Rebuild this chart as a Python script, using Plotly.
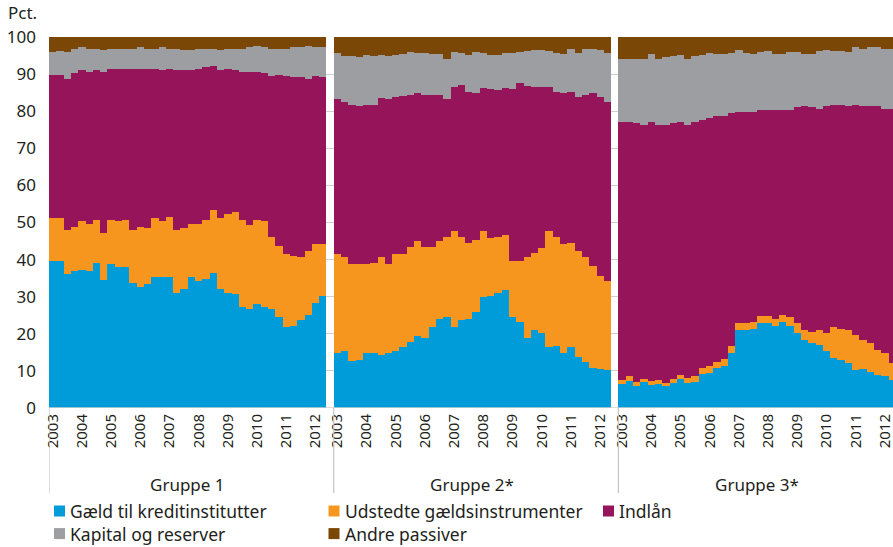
import plotly.graph_objects as go

# Kvartaler 2003K1 - 2012K2, pct. af passiver
years = [str(y) for y in range(2003, 2013)]
groups = ["Gruppe 1", "Gruppe 2*", "Gruppe 3*"]

g1_gaeld = [39.5, 39.5, 36.0, 37.0, 37.3, 37.0, 39.2, 34.6, 38.9, 38.1, 37.9, 33.8, 32.7, 33.5, 35.4, 35.4, 35.4, 31.1, 32.2,
            35.2, 34.1, 34.9, 36.5, 32.2, 31.1, 30.6, 27.1, 26.8, 28.1, 27.1, 26.8, 24.4, 21.9, 22.2, 23.6, 25.2, 28.4, 30.1]
g1_udstedte = [11.6, 11.8, 12.1, 11.9, 13.0, 12.5, 11.4, 12.5, 11.7, 12.2, 12.7, 14.1, 16.2, 14.9, 15.7, 14.9, 16.2, 16.8, 16.2,
               14.3, 15.4, 15.9, 17.0, 18.9, 21.3, 22.1, 23.7, 22.4, 22.5, 23.2, 19.4, 19.4, 19.7, 18.9, 17.2, 17.0, 15.9, 14.2]
g1_indlaan = [38.6, 38.4, 40.7, 41.3, 40.7, 41.2, 40.4, 43.4, 40.7, 41.2, 40.7, 43.4, 42.6, 43.1, 40.4, 40.7, 39.7, 43.1, 42.6,
              41.5, 42.0, 41.0, 38.6, 39.9, 39.1, 38.3, 39.9, 41.3, 40.1, 39.9, 43.2, 45.9, 47.8, 48.0, 48.3, 46.6, 45.1, 44.8]
g1_kapital = [6.2, 6.4, 7.1, 6.7, 6.2, 6.2, 5.9, 5.9, 5.4, 5.2, 5.4, 5.6, 5.7, 5.2, 5.4, 6.2, 5.6, 5.7, 5.4,
              5.4, 5.2, 4.9, 4.8, 5.4, 5.4, 5.7, 6.2, 6.7, 6.8, 7.0, 7.5, 7.2, 7.5, 8.1, 8.1, 8.7, 7.8, 8.1]
g1_andre = [4.1, 3.9, 4.1, 3.1, 2.8, 3.1, 3.1, 3.6, 3.3, 3.3, 3.3, 3.1, 2.8, 3.3, 3.1, 2.8, 3.1, 3.3, 3.6,
            3.6, 3.3, 3.3, 3.1, 3.6, 3.1, 3.3, 3.1, 2.8, 2.5, 2.8, 3.1, 3.1, 3.1, 2.8, 2.8, 2.5, 2.8, 2.8]

g2_gaeld = [14.7, 15.5, 12.8, 13.0, 14.7, 14.7, 14.4, 14.7, 15.5, 16.5, 17.9, 19.5, 19.0, 21.7, 24.1, 24.6, 21.9, 23.6, 24.1,
            26.0, 29.8, 30.3, 31.1, 31.9, 24.6, 23.3, 19.0, 20.9, 20.3, 16.5, 16.8, 14.9, 16.5, 13.8, 12.5, 10.9, 10.6, 10.3]
g2_udstedte = [26.7, 25.1, 26.1, 25.9, 24.2, 24.5, 26.2, 24.2, 25.9, 25.1, 25.4, 25.4, 24.3, 21.8, 21.0, 21.6, 25.9, 22.4, 20.5,
               19.4, 18.0, 15.4, 15.1, 14.6, 15.1, 16.4, 21.6, 21.0, 22.7, 31.3, 29.4, 29.4, 28.1, 28.6, 28.1, 27.5, 25.1, 23.8]
g2_indlaan = [41.8, 41.8, 42.7, 42.4, 42.7, 42.6, 42.9, 44.3, 42.3, 42.4, 41.2, 39.9, 41.2, 40.8, 39.2, 37.0, 38.6, 41.0, 40.5,
              39.4, 38.4, 40.2, 39.4, 39.7, 46.2, 47.8, 46.1, 44.5, 43.4, 38.6, 38.9, 40.5, 40.7, 41.3, 43.7, 46.4, 48.0, 48.5]
g2_kapital = [12.4, 12.4, 13.2, 13.2, 13.5, 13.0, 11.6, 11.6, 11.4, 11.3, 11.4, 10.8, 11.1, 11.0, 11.0, 11.0, 9.5, 8.6, 10.0,
              11.1, 9.4, 9.2, 9.5, 9.4, 9.7, 8.4, 9.4, 10.0, 10.0, 9.7, 10.5, 10.5, 11.4, 11.9, 12.4, 11.9, 12.7, 13.0]
g2_andre = [4.4, 5.2, 5.2, 5.5, 4.9, 5.2, 4.9, 5.2, 4.9, 4.7, 4.1, 4.4, 4.4, 4.7, 4.7, 5.8, 4.1, 4.4, 4.9,
            4.1, 4.4, 4.9, 4.9, 4.4, 4.4, 4.1, 3.9, 3.6, 3.6, 3.9, 4.4, 4.7, 3.3, 4.4, 3.3, 3.3, 3.6, 4.4]

g3_gaeld = [6.6, 7.4, 6.0, 7.1, 6.3, 6.6, 5.8, 6.8, 7.9, 6.8, 7.1, 9.3, 9.5, 10.9, 11.4, 14.9, 21.1, 20.9, 21.4,
            23.0, 22.8, 22.2, 23.3, 22.2, 20.1, 18.4, 17.6, 17.1, 15.5, 13.6, 13.0, 12.2, 10.3, 10.6, 9.8, 9.0, 8.7, 7.6]
g3_udstedte = [1.0, 1.1, 1.1, 0.8, 1.1, 1.0, 1.0, 1.1, 1.1, 1.4, 1.4, 1.6, 1.9, 1.6, 1.9, 1.9, 1.9, 2.1, 1.9,
               1.9, 2.1, 1.9, 1.9, 2.4, 2.9, 2.7, 3.0, 3.8, 4.6, 8.1, 8.4, 8.9, 9.5, 7.8, 7.6, 6.7, 6.2, 4.6]
g3_indlaan = [69.6, 68.5, 69.6, 68.3, 69.6, 68.8, 69.6, 68.8, 68.0, 68.2, 68.5, 66.6, 66.9, 66.1, 65.3, 62.6, 56.9, 56.7, 56.4,
              55.3, 55.3, 56.1, 55.0, 55.6, 58.0, 60.2, 60.4, 59.6, 61.2, 59.9, 60.4, 60.2, 61.8, 62.9, 63.9, 65.6, 65.6, 68.3]
g3_kapital = [17.0, 17.0, 17.5, 18.0, 18.3, 17.8, 18.1, 18.1, 18.1, 17.8, 17.8, 17.6, 17.3, 16.7, 16.7, 16.2, 16.5, 15.9, 15.6,
              15.7, 15.9, 15.1, 15.1, 15.7, 14.9, 14.0, 14.3, 15.6, 15.1, 14.5, 14.3, 14.6, 15.6, 15.4, 15.9, 15.9, 16.4, 16.2]
g3_andre = [5.8, 6.0, 5.8, 5.8, 4.7, 5.8, 5.5, 5.2, 4.9, 5.8, 5.2, 4.9, 4.4, 4.7, 4.7, 4.4, 3.6, 4.4, 4.7,
            4.1, 3.9, 4.7, 4.7, 4.1, 4.1, 4.7, 4.7, 3.9, 3.6, 3.9, 3.9, 4.1, 2.8, 3.3, 2.8, 2.8, 3.1, 3.3]

series = [
    ("Gæld til kreditinstitutter", "#009cd9", [g1_gaeld, g2_gaeld, g3_gaeld]),
    ("Udstedte gældsinstrumenter", "#f7961e", [g1_udstedte, g2_udstedte, g3_udstedte]),
    ("Indlån", "#96155a", [g1_indlaan, g2_indlaan, g3_indlaan]),
    ("Kapital og reserver", "#9c9ea1", [g1_kapital, g2_kapital, g3_kapital]),
    ("Andre passiver", "#7a4706", [g1_andre, g2_andre, g3_andre]),
]

W, H = 893, 547
L, R, T, B = 49, 0, 37, 139
PW, PH = W - L - R, H - T - B


def px_x(px):
    return (px - L) / PW


def px_y(py):
    return (H - B - py) / PH


n_q = len(g1_gaeld)
stride = n_q + 1  # one empty slot between the groups

x = []
for p in range(len(groups)):
    x += [p * stride + i for i in range(n_q)]

fig = go.Figure()
for name, color, vals in series:
    y = [v for grp in vals for v in grp]
    fig.add_trace(
        go.Bar(
            x=x,
            y=y,
            name=name,
            marker=dict(color=color, line=dict(width=0)),
            hoverinfo="skip",
            showlegend=False,
        )
    )

tickvals = []
ticktext = []
for p in range(len(groups)):
    for j, yr in enumerate(years):
        tickvals.append(p * stride + 4 * j)
        ticktext.append(yr)

txt = "#231f20"
font = "Noto Sans"

fig.update_layout(
    width=W,
    height=H,
    barmode="stack",
    bargap=0,
    plot_bgcolor="white",
    paper_bgcolor="white",
    showlegend=False,
    margin=dict(l=L, r=R, t=T, b=B, autoexpand=False),
    font=dict(family=font, size=17, color=txt),
    xaxis=dict(
        range=[-0.5, -0.5 + PW / 7.3],
        tickvals=tickvals,
        ticktext=ticktext,
        tickangle=-90,
        showgrid=False,
        zeroline=False,
        showline=False,
        ticks="",
        ticklabelstandoff=2,
        ticklabeloverflow="allow",
        tickfont=dict(size=15, color=txt),
    ),
    yaxis=dict(
        range=[0, 100],
        dtick=10,
        showgrid=True,
        gridcolor="#cfcfcf",
        gridwidth=1,
        zeroline=False,
        ticks="",
        ticklabelstandoff=12,
        tickfont=dict(size=17, color=txt),
    ),
)

# x-axis baseline
fig.add_shape(type="line", xref="paper", yref="y", x0=0, x1=1, y0=0, y1=0,
              line=dict(color="#cfcfcf", width=1.5), layer="above")

# group separators and labels
for p, g in enumerate(groups):
    fig.add_shape(type="line", xref="x", yref="paper",
                  x0=p * stride - 0.5, x1=p * stride - 0.5, y0=0, y1=px_y(493),
                  line=dict(color="#c4c4c4", width=1.2))
    fig.add_annotation(x=p * stride + (n_q - 1) / 2, y=px_y(484), xref="x", yref="paper",
                       text=g, showarrow=False, font=dict(size=17, color=txt),
                       yanchor="middle")

fig.add_annotation(x=px_x(6), y=px_y(13), xref="paper", yref="paper", text="Pct.",
                   showarrow=False, xanchor="left", yanchor="middle",
                   font=dict(size=17, color=txt))

# legend: 3 columns, 2 rows
col_x = [54, 328.5, 603]
row_y = [511, 533.6]
for k, (name, color, _) in enumerate(series):
    cx = col_x[k % 3]
    cy = row_y[k // 3]
    fig.add_shape(type="rect", xref="paper", yref="paper",
                  x0=px_x(cx), x1=px_x(cx + 11), y0=px_y(cy - 5.5), y1=px_y(cy + 5.5),
                  fillcolor=color, line=dict(width=0))
    fig.add_annotation(x=px_x(cx + 14), y=px_y(cy), xref="paper", yref="paper",
                       text=name, showarrow=False, xanchor="left", yanchor="middle",
                       font=dict(size=17.5, color=txt))

# the page body has a default 8px margin; drop it so the figure fills the window
fig.write_html(
    "out.html",
    config={"displayModeBar": False},
    post_script="document.body.style.margin='0';",
)
